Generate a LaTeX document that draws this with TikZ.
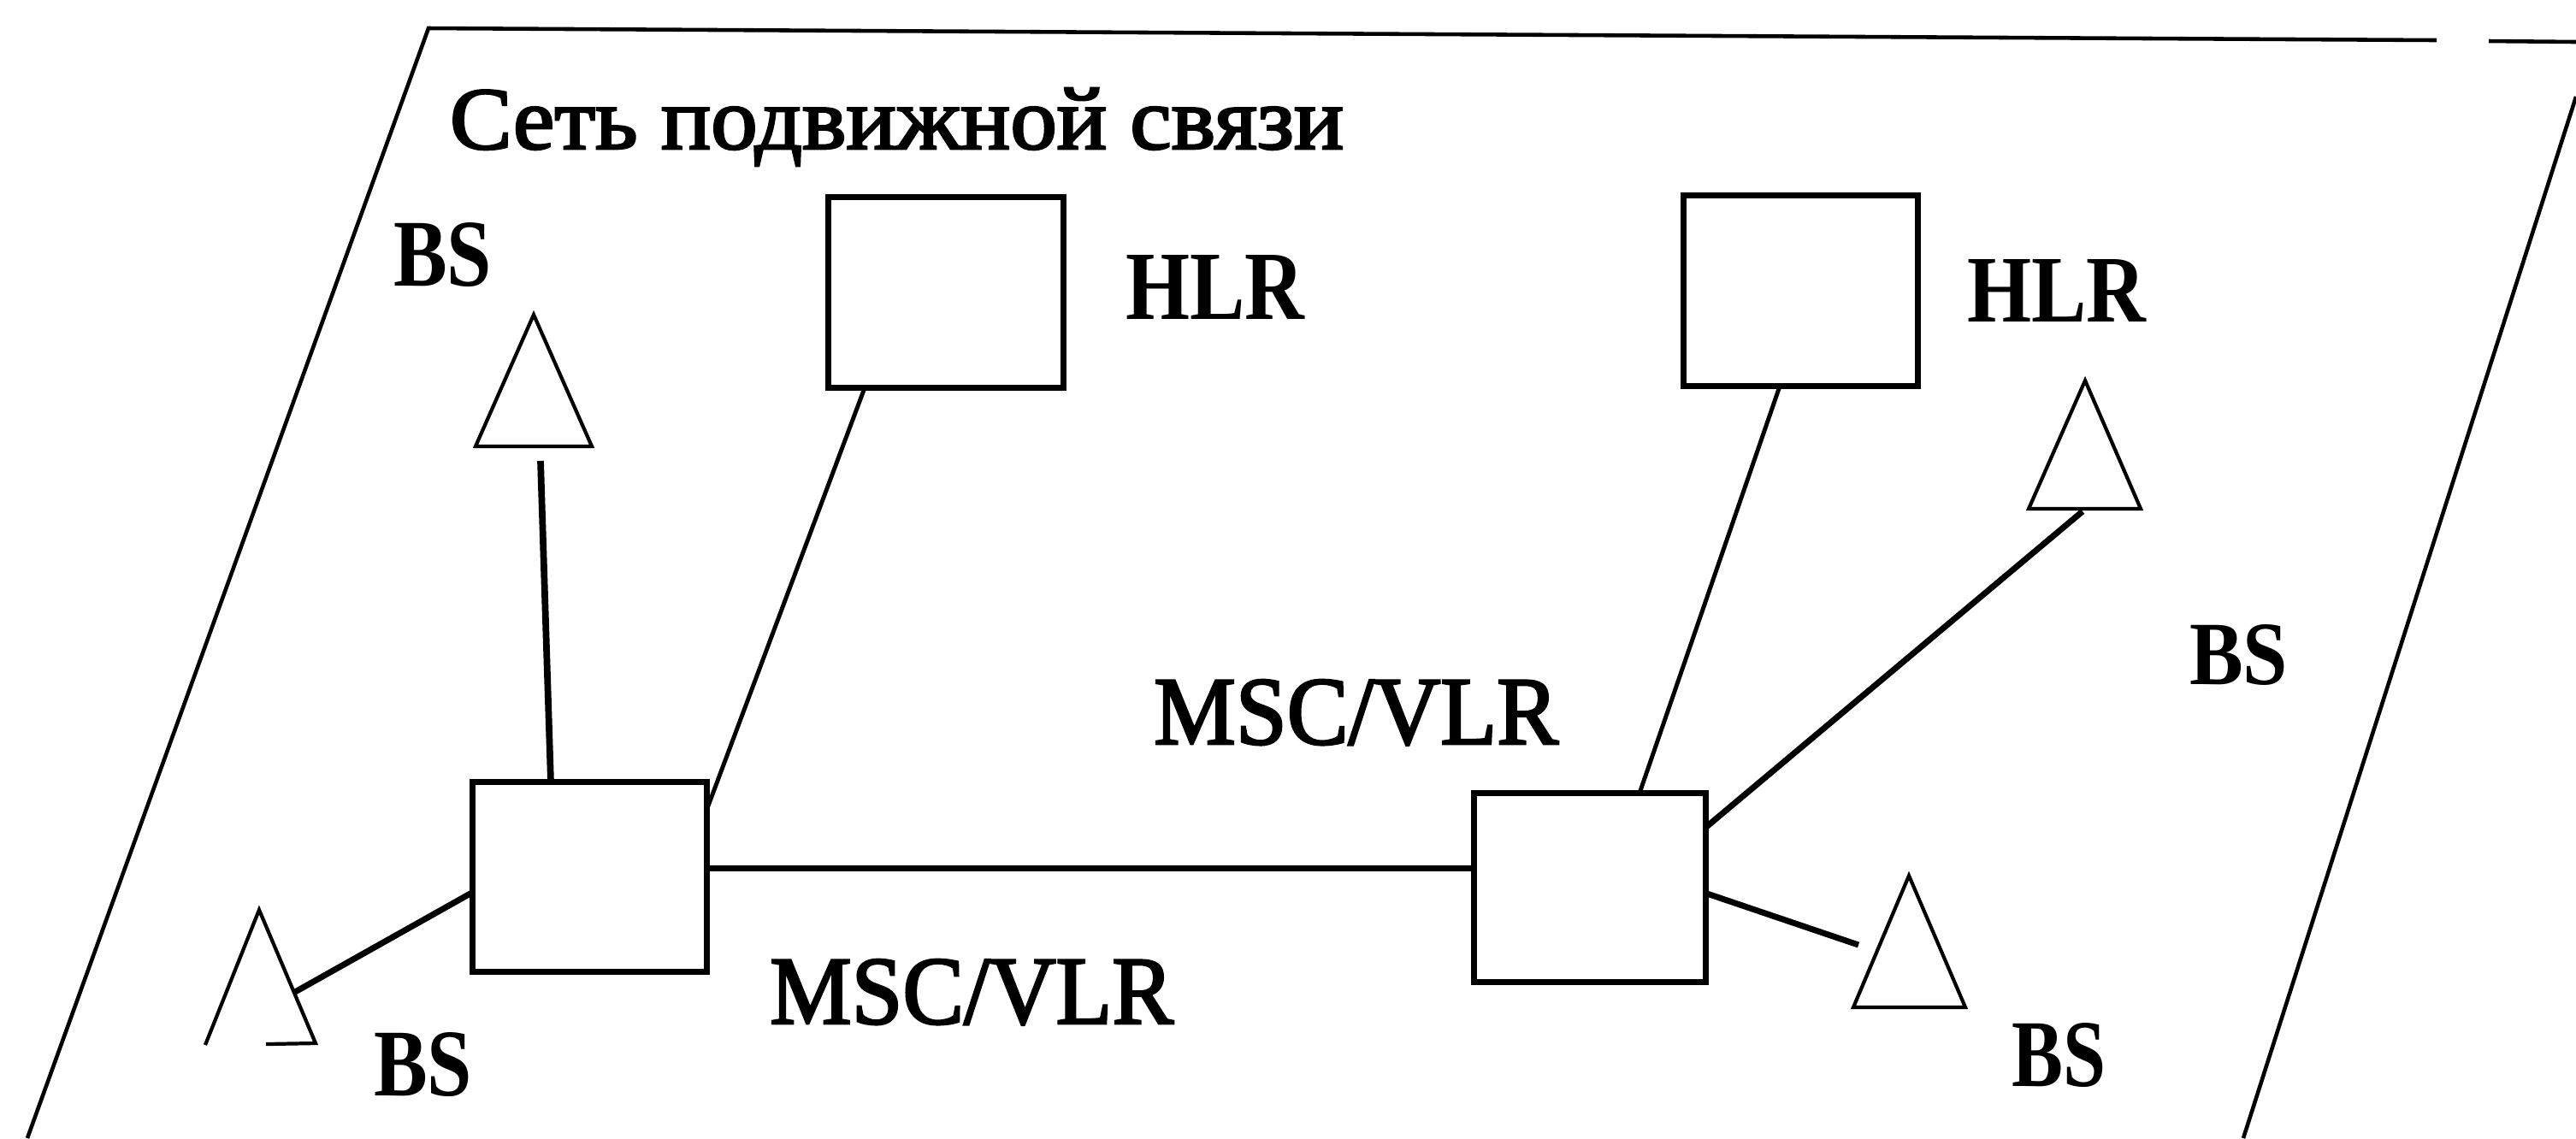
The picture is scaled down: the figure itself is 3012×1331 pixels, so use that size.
\documentclass[tikz,border=0pt]{standalone}
\usepackage{fontspec}
\setmainfont{Liberation Serif}
\newfontfamily\heavy[FakeBold=2.5]{Liberation Serif}
\usepackage{graphicx}
\usetikzlibrary{calc}
\begin{document}
\begin{tikzpicture}[x=0.1mm, y=-0.1mm,
  box/.style={draw, line width=2pt, inner sep=0pt, outer sep=0pt},
  lbl/.style={inner sep=0pt, outer sep=0pt, anchor=base west},
  frame/.style={line width=1.3pt, line join=miter},
  link/.style={line width=1.4pt},
  blink/.style={line width=2pt},
  tri/.style={line width=1.2pt, line join=miter}]
\useasboundingbox (0,0) rectangle (3012,1331);
\clip (0,0) rectangle (3012,1331);

% frame (parallelogram)
\coordinate (ftl) at (501,33);
\coordinate (fbl) at (32,1331);
\coordinate (fg1) at (2849,47);
\coordinate (fg2) at (2910,48);
\coordinate (ftr) at (3012,49);
\coordinate (frt) at (3012,113);
\coordinate (frb) at (2623,1331);
\draw[frame] (fbl) -- (ftl) -- (fg1);
\draw[frame] (fg2) -- (ftr);
\draw[frame] (frt) -- (frb);

% boxes
\node[box, minimum width=27.5mm, minimum height=22.3mm] (hlr1) at (1106,342) {};
\node[box, minimum width=27.4mm, minimum height=22.3mm] (hlr2) at (2105.5,340) {};
\node[box, minimum width=27.4mm, minimum height=22.2mm] (msc1) at (689.5,1025.5) {};
\node[box, minimum width=27.1mm, minimum height=22.1mm] (msc2) at (1859,1038) {};

% base station triangles
\coordinate (t1a) at (624,368);
\coordinate (t1l) at (556,522);
\coordinate (t1r) at (692,522);
\draw[tri] (t1a) -- (t1r) -- (t1l) -- cycle;

\coordinate (tbla) at (303,1064);
\coordinate (tbll) at (240,1222);
\coordinate (tblr) at (369,1220);
\coordinate (tblb) at (311,1221);
\draw[tri] (tbll) -- (tbla) -- (tblr) -- (tblb);

\coordinate (tbra) at (2232,1024);
\coordinate (tbrl) at (2167,1178);
\coordinate (tbrr) at (2298,1178);
\draw[tri] (tbra) -- (tbrr) -- (tbrl) -- cycle;

\coordinate (t3a) at (2438,445);
\coordinate (t3l) at (2372,595);
\coordinate (t3r) at (2503,595);
\draw[tri] (t3a) -- (t3r) -- (t3l) -- cycle;

% connector end points
\coordinate (t1foot) at (632,539);
\coordinate (tblhit) at (345,1160);
\coordinate (tbrend) at (2173,1105);
\coordinate (t3foot) at (2435,598);
\coordinate (m1r) at ($(msc1.north east)+(0,100.5)$);

% connectors
\draw[blink, line width=2.2pt] (t1foot) -- ($(msc1.north west)+(91.5,0)$);
\draw[link] ($(hlr1.south west)+(42.5,0)$) -- ($(msc1.north east)+(0,32)$);
\draw[link] ($(hlr2.south west)+(112.5,0)$) -- ($(msc2.north west)+(193.5,0)$);
\draw[blink] (m1r) -- (m1r -| msc2.west);
\draw[blink] ($(msc1.north west)+(0,129)$) -- (tblhit);
\draw[blink] ($(msc2.north east)+(0,117)$) -- (tbrend);
\draw[blink] ($(msc2.north east)+(0,40)$) -- (t3foot);

% labels
\node[lbl] (title) at (526,174) {\resizebox{104.5mm}{7.1mm}{\heavy Сеть подвижной связи}};
\node[lbl] (bs1) at (460,334) {\resizebox{11.5mm}{7.4mm}{\textbf{BS}}};
\node[lbl] (hlr1l) at (1316,373) {\resizebox{21mm}{7.5mm}{\textbf{HLR}}};
\node[lbl] (hlr2l) at (2300,376) {\resizebox{21mm}{7.3mm}{\textbf{HLR}}};
\node[lbl] (msc2l) at (1349,870) {\resizebox{47.3mm}{7.5mm}{\heavy MSC/VLR}};
\node[lbl] (msc1l) at (900,1197) {\resizebox{47.2mm}{7.5mm}{\heavy MSC/VLR}};
\node[lbl] (bs2) at (437,1281) {\resizebox{11.5mm}{7.4mm}{\textbf{BS}}};
\node[lbl] (bs3) at (2352,1270) {\resizebox{11.0mm}{7.4mm}{\textbf{BS}}};
\node[lbl] (bs4) at (2560,800) {\resizebox{11.5mm}{7.0mm}{\textbf{BS}}};
\end{tikzpicture}
\end{document}
